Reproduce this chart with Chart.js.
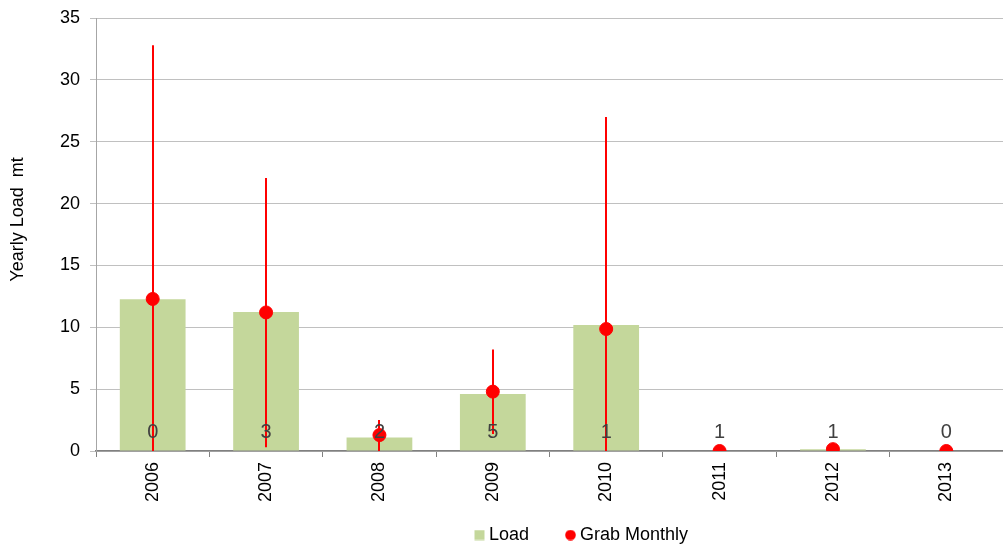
<!DOCTYPE html>
<html><head><meta charset="utf-8">
<script src="https://cdn.jsdelivr.net/npm/chart.js@4/dist/chart.umd.min.js"></script>
<style>html,body{margin:0;padding:0;background:#fff}#wrap{width:1003px;height:549px}</style>
</head><body><div id="wrap"><canvas id="c" width="1003" height="549"></canvas></div>
<script>
const categories = ["2006","2007","2008","2009","2010","2011","2012","2013"];
const loadValues = [12.26, 11.24, 1.1, 4.6, 10.19, 0, 0.15, 0];
const grabMonthly = [12.29, 11.2, 1.29, 4.8, 9.86, 0, 0.15, 0];
const errLow = [0, 0.3, 0, 1.37, 0, 0, 0, 0];
const errHigh = [32.8, 22.07, 2.5, 8.2, 27.0, 0, 0, 0];
const countLabels = ["0","3","2","5","1","1","1","0"];
const yTicks = [0,5,10,15,20,25,30,35];
const yTitle = 'Yearly Load  mt';

const FONT = "'Liberation Sans', Arial, sans-serif";
const LOAD_COLOR = '#c4d79b';
const GRAB_COLOR = '#ff0000';

function legendIcon(kind) {
  const c = document.createElement('canvas');
  c.width = 11; c.height = 11;
  const g = c.getContext('2d');
  if (kind === 'rect') {
    g.fillStyle = LOAD_COLOR;
    g.fillRect(0.5, 0.5, 10, 10);
  } else {
    g.fillStyle = GRAB_COLOR;
    g.beginPath(); g.arc(5.5, 5.5, 5.3, 0, Math.PI * 2); g.fill();
  }
  return c;
}
const icons = [legendIcon('rect'), legendIcon('circle')];

const errorBarPlugin = {
  id: 'errorBars',
  afterDatasetDraw(chart, args) {
    if (args.index !== 0) return;
    const ctx = chart.ctx, x = chart.scales.x, y = chart.scales.y;
    ctx.save();
    ctx.strokeStyle = GRAB_COLOR;
    ctx.lineWidth = 2;
    categories.forEach((c, i) => {
      if (errHigh[i] === errLow[i]) return;
      const px = Math.round(x.getPixelForValue(i));
      ctx.beginPath();
      ctx.moveTo(px, y.getPixelForValue(errLow[i]));
      ctx.lineTo(px, y.getPixelForValue(errHigh[i]));
      ctx.stroke();
    });
    ctx.restore();
  }
};
const countLabelPlugin = {
  id: 'countLabels',
  afterDatasetsDraw(chart) {
    const ctx = chart.ctx, x = chart.scales.x, y = chart.scales.y;
    ctx.save();
    ctx.fillStyle = '#404040';
    ctx.font = '20px ' + FONT;
    ctx.textAlign = 'center';
    ctx.textBaseline = 'middle';
    countLabels.forEach((t, i) => {
      ctx.fillText(t, x.getPixelForValue(i), y.bottom - 19);
    });
    ctx.restore();
  }
};
const yTitlePlugin = {
  id: 'yTitle',
  afterDraw(chart) {
    const ctx = chart.ctx, y = chart.scales.y;
    ctx.save();
    ctx.translate(18, (y.top + y.bottom) / 2 - 15);
    ctx.rotate(-Math.PI / 2);
    ctx.fillStyle = '#000';
    ctx.font = '18px ' + FONT;
    ctx.textAlign = 'center';
    ctx.textBaseline = 'middle';
    ctx.fillText(yTitle, 0, 0);
    ctx.restore();
  }
};
const legendPlace = {
  id: 'legendPlace',
  afterLayout(chart) {
    const l = chart.legend;
    if (!l) return;
    l.left += 82; l.right += 82;
    l.top -= 21; l.bottom -= 21;
  }
};

new Chart(document.getElementById('c'), {
  data: {
    labels: categories,
    datasets: [
      { type: 'bar', label: 'Load', data: loadValues, backgroundColor: LOAD_COLOR,
        borderWidth: 0, barPercentage: 0.58, categoryPercentage: 1.0, order: 2 },
      { type: 'line', label: 'Grab Monthly', data: grabMonthly, showLine: false,
        pointRadius: 6.5, pointHoverRadius: 6.5, pointBackgroundColor: GRAB_COLOR, pointBorderColor: GRAB_COLOR,
        backgroundColor: GRAB_COLOR, borderColor: GRAB_COLOR, pointStyle: 'circle', order: 1 }
    ]
  },
  options: {
    responsive: false,
    animation: false,
    devicePixelRatio: 1,
    layout: { autoPadding: false, padding: { top: 18, right: 0, left: 0, bottom: -26 } },
    plugins: {
      legend: {
        position: 'bottom',
        labels: { usePointStyle: true, boxWidth: 1, boxHeight: 10, padding: 41,
          color: '#000', font: { family: FONT, size: 18 },
          generateLabels(chart) {
            const items = Chart.defaults.plugins.legend.labels.generateLabels(chart);
            items.sort((a, b) => a.datasetIndex - b.datasetIndex);
            items.forEach(it => { it.pointStyle = icons[it.datasetIndex]; });
            return items;
          }
        }
      },
      tooltip: { enabled: false }
    },
    scales: {
      x: {
        offset: true,
        afterFit(axis) { axis.height = 55; axis.paddingLeft = 0; axis.paddingRight = 0; },
        grid: { offset: true, drawOnChartArea: false, drawTicks: true, tickLength: 6, color: '#808080' },
        border: { color: '#808080', width: 1.5 },
        ticks: { minRotation: 90, maxRotation: 90, color: '#000', font: { family: FONT, size: 18 }, padding: 5 }
      },
      y: {
        min: 0, max: 35,
        afterBuildTicks(axis) { axis.ticks = yTicks.map(v => ({ value: v })); },
        afterFit(axis) { axis.width = 96; axis.paddingTop = 0; axis.paddingBottom = 0; },
        title: { display: false },
        grid: { color: '#c0c0c0', tickLength: 6, lineWidth: 1 },
        border: { color: '#a6a6a6' },
        ticks: { color: '#000', font: { family: FONT, size: 18 }, padding: 10 }
      }
    }
  },
  plugins: [errorBarPlugin, countLabelPlugin, yTitlePlugin, legendPlace]
});
</script></body></html>
